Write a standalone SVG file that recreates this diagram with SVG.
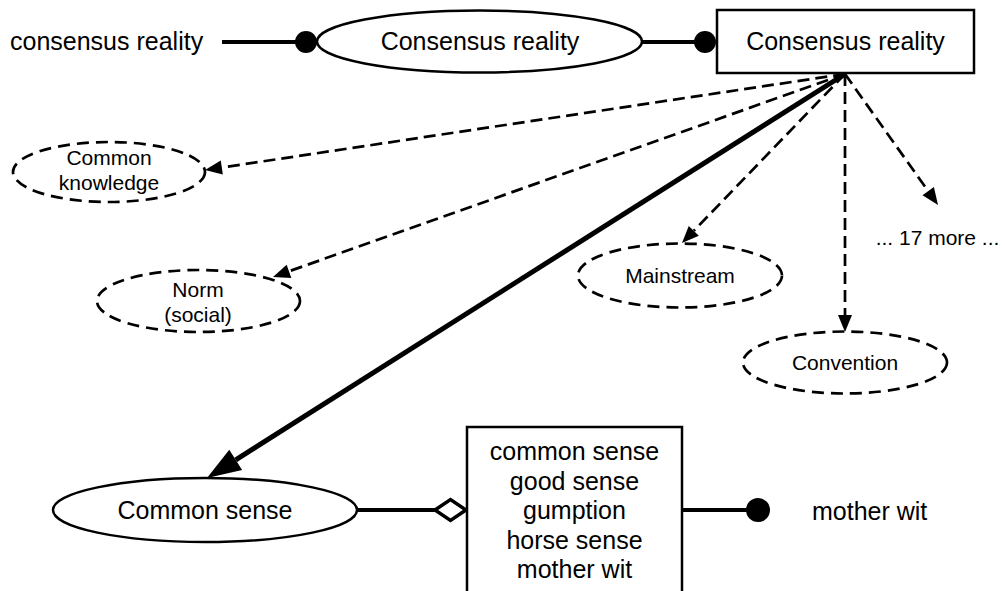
<svg xmlns="http://www.w3.org/2000/svg" width="1005" height="591" viewBox="0 0 1005 591">
<style>
  text { font-family: "Liberation Sans", Arial, sans-serif; fill: #000; }
  .big { font-size: 25px; }
  .small { font-size: 21px; }
  .mid { text-anchor: middle; }
  .solid { fill: #fff; stroke: #000; stroke-width: 2.5; }
  .dashed { fill: #fff; stroke: #000; stroke-width: 2.7; stroke-dasharray: 12 7; }
  .thick { fill: none; stroke: #000; stroke-width: 4; }
  .dash { fill: none; stroke: #000; stroke-width: 2.7; stroke-dasharray: 12 6; }
  .main { fill: none; stroke: #000; stroke-width: 5; }
  .dot { fill: #000; }
</style>
<defs>
  <marker id="ah" markerUnits="userSpaceOnUse" viewBox="0 0 17 14" refX="0" refY="7" markerWidth="17" markerHeight="14" orient="auto" overflow="visible">
    <path d="M0,0 L17,7 L0,14 z" fill="#000"/>
  </marker>
  <marker id="bigah" markerUnits="userSpaceOnUse" viewBox="0 0 34 24" refX="0" refY="12" markerWidth="34" markerHeight="24" orient="auto" overflow="visible">
    <path d="M0,0 L34,12 L0,24 z" fill="#000"/>
  </marker>
</defs>

<g id="connectors">
  <line class="thick" x1="222" y1="42" x2="306" y2="42"/>
  <circle class="dot" cx="306" cy="42" r="11"/>
  <line class="thick" x1="642" y1="42" x2="705" y2="42"/>
  <circle class="dot" cx="705" cy="42" r="11"/>
  <line class="dash" x1="845" y1="74" x2="221.8" y2="167.5" marker-end="url(#ah)"/>
  <line class="dash" x1="845" y1="74" x2="289" y2="271.3" marker-end="url(#ah)"/>
  <line class="dash" x1="845" y1="74" x2="693.8" y2="230.8" marker-end="url(#ah)"/>
  <line class="dash" x1="845" y1="74" x2="845" y2="315" marker-end="url(#ah)"/>
  <line class="dash" x1="845" y1="74" x2="928.2" y2="191.1" marker-end="url(#ah)"/>
  <line class="main" x1="845" y1="74" x2="235.7" y2="459.8" marker-end="url(#bigah)"/>
  <line class="thick" x1="357" y1="510" x2="436" y2="510"/>
  <polygon points="435,510 450.5,499.5 466,510 450.5,520.5" fill="#fff" stroke="#000" stroke-width="3.5"/>
  <line class="thick" x1="682" y1="510" x2="758" y2="510"/>
  <circle class="dot" cx="758" cy="510" r="12"/>
</g>

<g id="label-consensus-reality">
  <text class="big" x="10" y="50">consensus reality</text>
</g>

<g id="node-consensus-ellipse">
  <ellipse class="solid" cx="479.5" cy="41.5" rx="162.5" ry="31"/>
  <text class="big mid" x="480" y="50">Consensus reality</text>
</g>

<g id="node-consensus-box">
  <rect class="solid" x="717" y="10" width="257" height="63"/>
  <text class="big mid" x="845.5" y="50">Consensus reality</text>
</g>

<g id="node-common-knowledge">
  <ellipse class="dashed" cx="109" cy="172" rx="96" ry="30"/>
  <text class="small mid" x="109" y="165">Common</text>
  <text class="small mid" x="109" y="190">knowledge</text>
</g>

<g id="node-norm">
  <ellipse class="dashed" cx="198.5" cy="301" rx="101.5" ry="31"/>
  <text class="small mid" x="198" y="297">Norm</text>
  <text class="small mid" x="198" y="322">(social)</text>
</g>

<g id="node-mainstream">
  <ellipse class="dashed" cx="680" cy="275.5" rx="102" ry="32"/>
  <text class="small mid" x="680" y="283">Mainstream</text>
</g>

<g id="node-convention">
  <ellipse class="dashed" cx="845" cy="362.5" rx="102" ry="31"/>
  <text class="small mid" x="845" y="370">Convention</text>
</g>

<g id="node-more">
  <text class="small mid" x="937.5" y="245">... 17 more ...</text>
</g>

<g id="node-common-sense">
  <ellipse class="solid" cx="205" cy="510" rx="152" ry="32"/>
  <text class="big mid" x="205" y="519">Common sense</text>
</g>

<g id="node-synonyms">
  <rect class="solid" x="467" y="427" width="215" height="180"/>
  <text class="big mid" x="574.5" y="460">common sense</text>
  <text class="big mid" x="574.5" y="489.5">good sense</text>
  <text class="big mid" x="574.5" y="519">gumption</text>
  <text class="big mid" x="574.5" y="548.5">horse sense</text>
  <text class="big mid" x="574.5" y="578">mother wit</text>
</g>

<g id="label-mother-wit">
  <text class="big" x="812" y="520">mother wit</text>
</g>
</svg>
